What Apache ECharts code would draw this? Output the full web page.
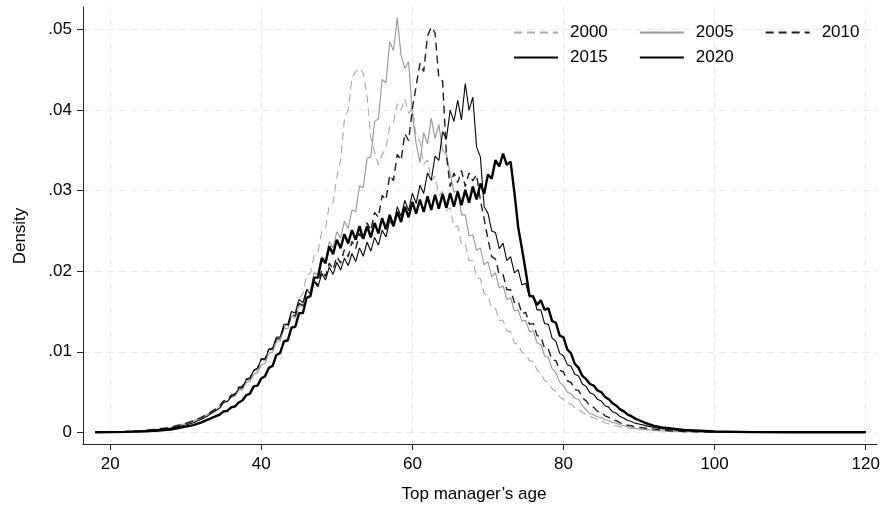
<!DOCTYPE html>
<html>
<head>
<meta charset="utf-8">
<title>Top manager's age density</title>
<script src="https://cdn.jsdelivr.net/npm/echarts@6/dist/echarts.min.js"></script>
<style>
  html, body { margin: 0; padding: 0; background: #fff; }
  #chart { width: 883px; height: 510px; }
</style>
</head>
<body>
<div id="chart"></div>
<script>
// Evaluation grid (age in years)
const ages = [18, 20, 22, 24, 26, 28, 30, 31, 32, 33, 34, 34.5,
  35, 35.5, 36, 36.5, 37, 37.5, 38, 38.5, 39, 39.5,
  40, 40.5, 41, 41.5, 42, 42.5, 43, 43.5, 44, 44.5,
  45, 45.5, 46, 46.5, 47, 47.5, 48, 48.5, 49, 49.5,
  50, 50.5, 51, 51.5, 52, 52.5, 53, 53.5, 54, 54.5,
  55, 55.5, 56, 56.5, 57, 57.5, 58, 58.5, 59, 59.5,
  60, 60.5, 61, 61.5, 62, 62.5, 63, 63.5, 64, 64.5,
  65, 65.5, 66, 66.5, 67, 67.5, 68, 68.5, 69, 69.5,
  70, 70.5, 71, 71.5, 72, 72.5, 73, 73.5, 74, 74.5,
  75, 75.5, 76, 76.5, 77, 77.5, 78, 78.5, 79, 79.5,
  80, 80.5, 81, 81.5, 82, 82.5, 83, 83.5, 84, 84.5,
  85, 85.5, 86, 86.5, 87, 87.5, 88, 88.5, 89, 89.5,
  90, 91, 92, 93, 94, 95, 96, 98, 100, 105, 110, 115, 120];

// Kernel density of top manager's age, by year
const d2000 = [.00002, .00004, .0001, .0002, .0004, .0007, .0012, .0015, .0019, .0024, .003, .0033,
  .0039, .00405, .0046, .0048, .0054, .00565, .0064, .0065, .0074, .00765,
  .0087, .00895, .01, .01035, .0116, .01175, .0131, .01335, .0149, .01495,
  .0166, .0172, .0195, .01975, .022, .0224, .0249, .0253, .0282, .0285,
  .0317, .0338, .0388, .04, .044, .0448, .0452, .0446, .0418, .0365,
  .0348, .0332, .0345, .0352, .038, .0385, .0408, .04, .0414, .0396,
  .0402, .0368, .0361, .0333, .0338, .0312, .0318, .0294, .0299, .0275,
  .0279, .0255, .0256, .0233, .0234, .0213, .0213, .0192, .0191, .0172,
  .017, .0154, .0154, .0139, .0139, .0126, .0125, .0111, .0109, .0099,
  .0098, .0089, .0088, .0077, .0074, .0064, .0062, .0054, .0051, .0044,
  .0041, .0036, .0035, .003, .0029, .00245, .00225, .00195, .00185, .00155,
  .00145, .00118, .00103, .00088, .00082, .00068, .00062, .00054, .00051, .00044,
  .00041, .0003, .0002, .00015, .0001, .00008, .00006, .00003, .00002, .000005, 0, 0, 0];

const d2005 = [.00002, .00004, .0001, .0002, .00035, .0006, .0011, .0014, .0018, .0023, .0028, .0031,
  .0037, .0038, .0043, .0045, .0052, .0053, .0062, .0063, .0072, .0074,
  .0084, .00855, .0098, .00995, .0113, .01135, .0129, .01285, .0144, .0142,
  .0157, .0157, .0177, .0177, .0198, .0196, .0218, .0214, .0237, .0229,
  .0249, .0241, .0262, .0253, .0276, .0274, .0306, .0304, .034, .0342,
  .0386, .0389, .0438, .0434, .0485, .0474, .0515, .0468, .0452, .046,
  .0395, .0358, .0335, .0372, .0358, .039, .0365, .0382, .035, .0345,
  .0322, .0298, .03, .027, .027, .0244, .0245, .0226, .0229, .0208,
  .0212, .0193, .0198, .0179, .0182, .0165, .0167, .0151, .0152, .0138,
  .0139, .0125, .0126, .0111, .0109, .0095, .0093, .0079, .0074, .0062,
  .0058, .005, .0048, .0042, .0041, .0033, .0028, .0023, .0022, .0019,
  .00185, .00155, .00144, .00122, .00113, .00093, .00082, .00068, .00062, .00049,
  .00041, .00035, .00025, .0002, .00015, .0001, .00008, .00004, .00002, .000005, 0, 0, 0];

const d2010 = [.00002, .00004, .0001, .0002, .00035, .0006, .0011, .0014, .0018, .0023, .0029, .0033,
  .0039, .00405, .0046, .00475, .0056, .0057, .0066, .00675, .0077, .00795,
  .0091, .0091, .0103, .01035, .0116, .0116, .0131, .01305, .0146, .01445,
  .016, .01575, .0175, .01715, .0188, .0183, .0201, .01935, .021, .0202,
  .0218, .021, .0227, .0218, .0237, .0228, .0247, .0239, .026, .02505,
  .0273, .0267, .0294, .02885, .0319, .03125, .0345, .03375, .0371, .0362,
  .0402, .043, .0458, .0448, .0492, .0503, .0496, .044, .0436, .0345,
  .0305, .0322, .031, .0325, .0305, .0322, .0312, .032, .0288, .0265,
  .024, .0218, .0215, .0196, .0196, .0177, .0177, .0161, .0163, .0147,
  .0149, .0134, .0135, .012, .0119, .0104, .0103, .009, .0089, .0077,
  .0075, .0064, .0062, .0053, .0052, .0043, .0039, .0033, .0031, .0026,
  .00247, .00205, .00185, .00156, .00144, .00117, .00103, .00088, .00082, .00068,
  .00062, .0005, .0004, .0003, .0002, .00015, .00011, .00006, .00003, .00001, 0, 0, 0];

const d2015 = [.00002, .00004, .00008, .00015, .0003, .0005, .0009, .0012, .0016, .0021, .0027, .003,
  .0037, .00385, .0044, .00465, .0054, .00555, .0065, .0067, .0077, .00795,
  .0091, .0091, .0103, .01045, .0118, .01185, .0134, .0134, .015, .0148,
  .0165, .0161, .0177, .0172, .0187, .01805, .0197, .0189, .0205, .0196,
  .0211, .02015, .0216, .0207, .0222, .0212, .0229, .02185, .0236, .0225,
  .0242, .02325, .0251, .02425, .0263, .02555, .028, .0268, .0288, .0275,
  .0297, .0284, .0307, .02965, .0322, .0313, .0343, .03375, .0373, .0364,
  .04, .0386, .0412, .0388, .0433, .04, .0416, .0354, .0342, .028,
  .0272, .025, .0248, .0228, .0235, .0213, .0218, .0198, .0202, .0183,
  .0185, .0168, .017, .0152, .0152, .0135, .0134, .0117, .0113, .0098,
  .0095, .0084, .0082, .0072, .007, .006, .0057, .0049, .0047, .0041,
  .0039, .0033, .0031, .00255, .00237, .00195, .00175, .00146, .00134, .00111,
  .00103, .0008, .0006, .00045, .00035, .00025, .0002, .0001, .00005, .00001, 0, 0, 0];

const d2020 = [.00001, .00003, .00006, .0001, .0002, .00035, .0007, .0009, .0012, .0016, .002, .0022,
  .0026, .00265, .0031, .0032, .0037, .00395, .0046, .0048, .0057, .0058,
  .0067, .00695, .008, .00825, .0096, .00985, .0113, .0114, .013, .0131,
  .0148, .0148, .0167, .0169, .0192, .0192, .0216, .021, .0231, .0221,
  .0239, .02285, .0246, .02345, .0251, .0239, .0256, .024, .0256, .0242,
  .026, .0247, .0266, .0252, .027, .0256, .0274, .0261, .028, .0267,
  .0286, .02715, .0289, .02735, .0293, .0276, .0295, .02775, .0296, .02785,
  .0297, .028, .0299, .0282, .0301, .0285, .0305, .0289, .0309, .0296,
  .032, .0315, .0338, .033, .0346, .0332, .0336, .0298, .0255, .0228,
  .02, .017, .0168, .0158, .0164, .0152, .0154, .0138, .0136, .012,
  .0118, .0103, .0098, .0085, .008, .007, .0066, .006, .0058, .0052,
  .005, .0044, .0041, .0036, .0033, .00285, .0026, .0022, .002, .0017,
  .0015, .0011, .0008, .0006, .0005, .0004, .0003, .0002, .0001, .00003, .00001, 0, 0];

const seriesNames = ['2000', '2005', '2010', '2015', '2020'];
const seriesValues = [d2000, d2005, d2010, d2015, d2020];

const xTicks = [20, 40, 60, 80, 100, 120];
const xTickLabels = ['20', '40', '60', '80', '100', '120'];
const yTicks = [0, .01, .02, .03, .04, .05];
const yTickLabels = ['0', '.01', '.02', '.03', '.04', '.05'];

const FONT = '"Liberation Sans", Arial, Helvetica, sans-serif';

// Line look per year: colour, width, dash
const styles = [
  { color: '#a9a9a9', width: 1.1, type: [8, 5] },
  { color: '#959595', width: 1.1, type: 'solid' },
  { color: '#1e1e1e', width: 1.4, type: [8, 5] },
  { color: '#000000', width: 1.1, type: 'solid' },
  { color: '#000000', width: 2.4, type: 'solid' }
];

const series = seriesNames.map((name, k) => ({
  name: name,
  type: 'line',
  data: ages.map((a, i) => [a, seriesValues[k][i]]),
  symbol: 'none',
  showSymbol: false,
  smooth: false,
  color: styles[k].color,
  lineStyle: { color: styles[k].color, width: styles[k].width, type: styles[k].type },
  z: 2 + k
}));

const gridLineStyle = { color: '#e9e9e9', width: 1, type: [7, 5] };

// Legend: line keys only, two rows in the upper right corner
const legendCommon = {
  left: 508,
  orient: 'horizontal',
  itemWidth: 44,
  itemHeight: 14,
  itemGap: 31,
  itemStyle: { opacity: 0 },
  textStyle: { fontFamily: FONT, fontSize: 17, color: '#000', padding: [0, 0, 0, 7] },
  selectedMode: false
};

const option = {
  animation: false,
  backgroundColor: '#ffffff',
  grid: { left: 83, right: 6, top: 7, bottom: 66, containLabel: false },
  legend: [
    Object.assign({}, legendCommon, { top: 19, data: seriesNames.slice(0, 3) }),
    Object.assign({}, legendCommon, { top: 44, data: seriesNames.slice(3) })
  ],
  xAxis: {
    type: 'value',
    min: 16.4,
    max: 121.5,
    axisLine: { show: true, onZero: false, lineStyle: { color: '#222', width: 1 } },
    axisTick: { show: true, length: 6, customValues: xTicks, lineStyle: { color: '#222' } },
    axisLabel: {
      customValues: xTicks,
      formatter: v => xTickLabels[xTicks.indexOf(v)],
      fontFamily: FONT, fontSize: 17, color: '#000', margin: 12
    },
    splitLine: { show: true, lineStyle: gridLineStyle }
  },
  yAxis: {
    type: 'value',
    min: -0.00145,
    max: 0.0528,
    axisLine: { show: true, onZero: false, lineStyle: { color: '#222', width: 1 } },
    axisTick: { show: true, length: 6, customValues: yTicks, lineStyle: { color: '#222' } },
    axisLabel: {
      customValues: yTicks,
      formatter: v => yTickLabels[yTicks.indexOf(v)],
      fontFamily: FONT, fontSize: 17, color: '#000', margin: 11
    },
    splitLine: { show: true, lineStyle: gridLineStyle }
  },
  graphic: [
    {
      type: 'text', x: 20, y: 236, rotation: Math.PI / 2,
      style: { text: 'Density', font: '17px ' + FONT, fill: '#000', align: 'center', verticalAlign: 'middle' }
    },
    {
      type: 'text', x: 474, y: 494,
      style: { text: 'Top manager\u2019s age', font: '17px ' + FONT, fill: '#000', align: 'center', verticalAlign: 'middle' }
    }
  ],
  series: series
};

const chart = echarts.init(document.getElementById('chart'), null, { renderer: 'canvas' });
chart.setOption(option);
</script>
</body>
</html>
